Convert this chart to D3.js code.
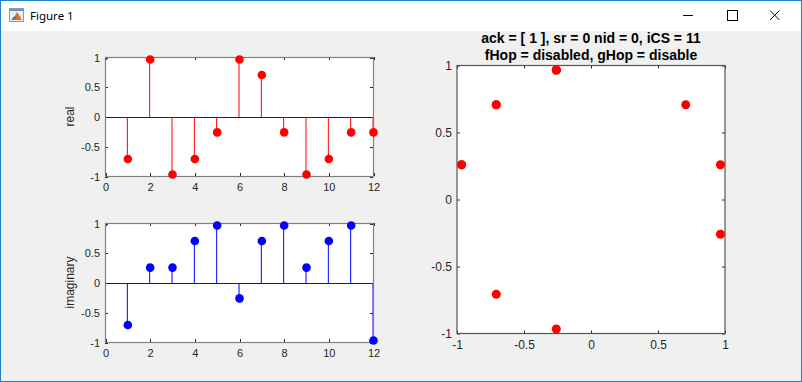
<!DOCTYPE html>
<html><head><meta charset="utf-8">
<script src="https://cdn.jsdelivr.net/npm/d3@7"></script>
<style>
body{margin:0;padding:0;background:#fff;overflow:hidden}
svg{display:block}
</style></head>
<body>
<script>
const sampleIndex = [1,2,3,4,5,6,7,8,9,10,11,12];
const realValues = [-0.707, 0.966, -0.966, -0.707, -0.259, 0.966, 0.707, -0.259, -0.966, -0.707, -0.259, -0.259];
const imagValues = [-0.707, 0.259, 0.259, 0.707, 0.966, -0.259, 0.707, 0.966, 0.259, 0.707, 0.966, -0.966];
const stemXTicks = [0,2,4,6,8,10,12];
const stemYTicks = [-1,-0.5,0,0.5,1];
const constTicks = [-1,-0.5,0,0.5,1];
const titleLines = ["ack = [ 1 ], sr = 0 nid = 0, iCS = 11", "fHop = disabled, gHop = disable"];
const windowTitle = "Figure 1";

const W = 802, H = 382;
const svg = d3.select("body").append("svg").attr("width", W).attr("height", H);
const font = "'Liberation Sans', Arial, sans-serif";

// window frame
svg.append("rect").attr("x",0).attr("y",0).attr("width",W).attr("height",H).attr("fill","#f0f0f0");
svg.append("rect").attr("x",0).attr("y",0).attr("width",W).attr("height",31).attr("fill","#ffffff");
svg.append("rect").attr("x",0.5).attr("y",0.5).attr("width",W-1).attr("height",H-1)
  .attr("fill","none").attr("stroke","#1a7fd4").attr("stroke-width",1);
// icon
const ic = svg.append("g").attr("transform","translate(9,8)");
ic.append("rect").attr("x",0.5).attr("y",0.5).attr("width",14).attr("height",13).attr("fill","#e8eef6").attr("stroke","#8a9bb0");
ic.append("rect").attr("x",1).attr("y",1).attr("width",13).attr("height",2).attr("fill","#6f8fb8");
ic.append("path").attr("d","M2,12 L6,8 L8,4 L10,7 L13,12 Z").attr("fill","#e07020");
ic.append("path").attr("d","M2,12 L6,8 L7,10 Z").attr("fill","#2a6cc0");
svg.append("text").attr("x",30).attr("y",20).attr("font-family","'Segoe UI','Noto Sans',sans-serif")
  .attr("font-size",11.5).attr("fill","#000").text(windowTitle);
// window controls
svg.append("line").attr("x1",683).attr("x2",693).attr("y1",15.5).attr("y2",15.5).attr("stroke","#000");
svg.append("rect").attr("x",727.5).attr("y",10.5).attr("width",10).attr("height",10).attr("fill","none").attr("stroke","#000");
svg.append("path").attr("d","M770,10.5 L779.5,20 M779.5,10.5 L770,20").attr("stroke","#000").attr("fill","none");

function drawAxesFrame(g, x, y, w, h, xTicks, yTicks, color, fs, xFmt, yFmt) {
  g.append("g").attr("transform",`translate(0,${h})`)
    .call(d3.axisBottom(x).tickValues(xTicks).tickSize(0).tickPadding(7).tickFormat(xFmt))
    .call(s=>{s.select(".domain").remove(); s.selectAll("line").remove(); s.selectAll("text").attr("font-family",font).attr("font-size",fs).attr("fill","#262626");});
  g.append("g")
    .call(d3.axisLeft(y).tickValues(yTicks).tickSize(0).tickPadding(5).tickFormat(yFmt))
    .call(s=>{s.select(".domain").remove(); s.selectAll("line").remove(); s.selectAll("text").attr("font-family",font).attr("font-size",fs).attr("fill","#262626");});
  const tl = 3;
  xTicks.forEach(t=>{
    const px = Math.round(x(t))+0.5;
    g.append("line").attr("x1",px).attr("x2",px).attr("y1",h).attr("y2",h-tl).attr("stroke",color);
    g.append("line").attr("x1",px).attr("x2",px).attr("y1",0).attr("y2",tl).attr("stroke",color);
  });
  yTicks.forEach(t=>{
    const py = Math.round(y(t))+0.5;
    g.append("line").attr("x1",0).attr("x2",tl).attr("y1",py).attr("y2",py).attr("stroke",color);
    g.append("line").attr("x1",w).attr("x2",w-tl).attr("y1",py).attr("y2",py).attr("stroke",color);
  });
}

function stemPlot(left, top, w, h, values, color, label) {
  const g = svg.append("g").attr("transform",`translate(${left},${top})`);
  const x = d3.scaleLinear().domain([0,12]).range([0.5,w+0.5]);
  const y = d3.scaleLinear().domain([-1,1]).range([h+0.5,0.5]);
  g.append("rect").attr("x",0.5).attr("y",0.5).attr("width",w).attr("height",h).attr("fill","#fff");
  drawAxesFrame(g, x, y, w, h, stemXTicks, stemYTicks, "#262626", 11, d3.format("d"), d=>String(d));
  g.append("line").attr("x1",0.5).attr("x2",w+0.5).attr("y1",Math.round(y(0))+0.5).attr("y2",Math.round(y(0))+0.5).attr("stroke","#222").attr("stroke-width",1);
  g.selectAll(".stem").data(values).enter().append("line")
    .attr("x1",(d,i)=>x(sampleIndex[i])-0.5).attr("x2",(d,i)=>x(sampleIndex[i])-0.5)
    .attr("y1",y(0)).attr("y2",d=>y(d)).attr("stroke",color).attr("stroke-width",1);
  g.append("rect").attr("x",0.5).attr("y",0.5).attr("width",w).attr("height",h).attr("fill","none").attr("stroke","#808080").attr("stroke-width",1.2);
  g.selectAll(".mk").data(values).enter().append("circle")
    .attr("cx",(d,i)=>x(sampleIndex[i])).attr("cy",d=>y(d)).attr("r",4.3).attr("fill",color);
  svg.append("text").attr("transform",`translate(${left-31},${top+h/2}) rotate(-90)`)
    .attr("text-anchor","middle").attr("font-family",font).attr("font-size",12).attr("fill","#262626").text(label);
}

stemPlot(105, 57, 268, 119, realValues, "#ff0000", "real");
stemPlot(105, 223, 268, 119, imagValues, "#0000ff", "imaginary");

// constellation
(function(){
  const left = 457, top = 65.5, w = 268, h = 268;
  const g = svg.append("g").attr("transform",`translate(${left},${top})`);
  const x = d3.scaleLinear().domain([-1,1]).range([0,w]);
  const y = d3.scaleLinear().domain([-1,1]).range([h,0]);
  g.append("rect").attr("width",w).attr("height",h).attr("fill","#fff");
  drawAxesFrame(g, x, y, w, h, constTicks, constTicks, "#262626", 12, d=>String(d), d=>String(d));
  g.append("rect").attr("width",w).attr("height",h).attr("fill","none").attr("stroke","#555").attr("stroke-width",1.2);
  g.selectAll(".pt").data(realValues).enter().append("circle")
    .attr("cx",d=>x(d)).attr("cy",(d,i)=>y(imagValues[i])).attr("r",4.5).attr("fill","#ff0000");
  titleLines.forEach((t,i)=>{
    svg.append("text").attr("x",left+w/2).attr("y",43+i*17).attr("text-anchor","middle")
      .attr("font-family",font).attr("font-size",14).attr("font-weight","bold").attr("fill","#000").text(t);
  });
})();
</script>
</body></html>
